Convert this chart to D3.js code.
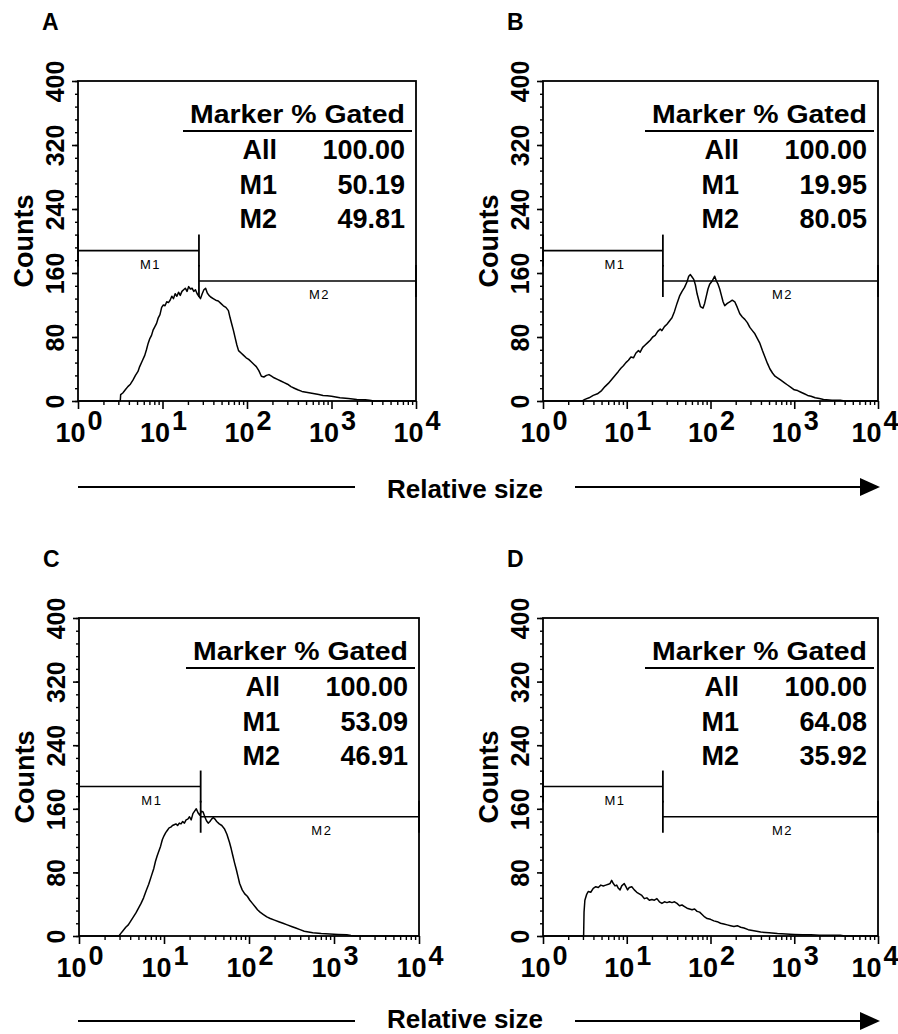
<!DOCTYPE html>
<html>
<head>
<meta charset="utf-8">
<script src="https://cdn.jsdelivr.net/npm/d3@7"></script>
<style>
  body { margin: 0; background: #fff; }
  svg text { font-family: "Liberation Sans", Arial, Helvetica, sans-serif; fill: #000; }
</style>
</head>
<body>
<svg id="fig" width="898" height="1034"></svg>
<script>
// Flow cytometry histograms, four panels (A-D)

// table values
const markerNames = ["All", "M1", "M2"];
const gatedA = ["100.00", "50.19", "49.81"];
const gatedB = ["100.00", "19.95", "80.05"];
const gatedC = ["100.00", "53.09", "46.91"];
const gatedD = ["100.00", "64.08", "35.92"];

// axes
const yTicks = [0, 80, 160, 240, 320, 400];
const xDecades = [0, 1, 2, 3, 4];

// markers: M1 = 10^0 .. gateEdge, M2 = gateEdge .. 10^4
const gateEdge = 27;
const m1Level = 188;
const m2Level = 150;

// histograms: log10(relative size) and counts
const expA = [0, 0.48, 0.50, 0.505, 0.53, 0.56, 0.59, 0.62, 0.65, 0.68, 0.71, 0.73, 0.76, 0.79, 0.81, 0.83, 0.85, 0.87, 0.89, 0.91, 0.93, 0.95, 0.97, 0.99, 1.01, 1.03, 1.05, 1.07, 1.09, 1.11, 1.13, 1.15, 1.17, 1.19, 1.21, 1.23, 1.25, 1.27, 1.29, 1.31, 1.33, 1.35, 1.37, 1.39, 1.41, 1.43, 1.45, 1.47, 1.49, 1.51, 1.53, 1.55, 1.57, 1.60, 1.63, 1.66, 1.69, 1.72, 1.75, 1.78, 1.80, 1.82, 1.84, 1.86, 1.88, 1.90, 1.93, 1.96, 1.99, 2.02, 2.05, 2.08, 2.11, 2.14, 2.17, 2.20, 2.23, 2.26, 2.29, 2.32, 2.36, 2.40, 2.44, 2.48, 2.52, 2.56, 2.60, 2.65, 2.70, 2.75, 2.80, 2.85, 2.90, 2.95, 3.00, 3.05, 3.10, 3.20, 3.30, 3.40, 3.45, 3.50, 4];
const cntA = [0, 0, 0, 8, 10, 14, 18, 21, 26, 32, 37, 43, 50, 57, 64, 72, 78, 82, 89, 93, 97, 104, 108, 117, 120, 119, 124, 123, 126, 131, 128, 134, 131, 136, 132, 137, 139, 141, 137, 143, 140, 141, 137, 139, 134, 131, 128, 134, 139, 141, 135, 132, 130, 128, 126, 125, 122, 119, 117, 113, 104, 96, 88, 79, 70, 63, 60, 57, 54, 52, 49, 46, 43, 38, 31, 30, 32, 33, 31, 29, 27, 25, 23, 21, 18, 16, 14, 12, 11, 10, 9, 8, 7, 6.5, 6, 5, 4, 3, 2, 1.5, 1, 0, 0];

const expB = [0, 0.47, 0.50, 0.55, 0.60, 0.65, 0.70, 0.74, 0.78, 0.82, 0.86, 0.90, 0.93, 0.96, 0.99, 1.02, 1.05, 1.08, 1.11, 1.14, 1.16, 1.19, 1.22, 1.25, 1.28, 1.31, 1.34, 1.37, 1.40, 1.42, 1.45, 1.48, 1.51, 1.54, 1.57, 1.60, 1.63, 1.66, 1.69, 1.72, 1.74, 1.76, 1.78, 1.80, 1.82, 1.84, 1.86, 1.88, 1.91, 1.93, 1.95, 1.97, 1.99, 2.02, 2.05, 2.07, 2.09, 2.11, 2.13, 2.15, 2.17, 2.20, 2.23, 2.26, 2.29, 2.32, 2.35, 2.38, 2.41, 2.44, 2.47, 2.50, 2.53, 2.56, 2.59, 2.62, 2.65, 2.68, 2.71, 2.74, 2.77, 2.80, 2.84, 2.88, 2.92, 2.96, 3.00, 3.04, 3.08, 3.12, 3.16, 3.20, 3.25, 3.30, 3.35, 3.45, 3.55, 3.60, 4];
const cntB = [0, 0, 2, 4, 7, 9, 13, 18, 22, 27, 32, 37, 41, 44, 48, 51, 55, 54, 60, 63, 61, 67, 70, 73, 76, 80, 82, 87, 90, 88, 93, 96, 100, 104, 112, 122, 131, 137, 142, 149, 156, 158, 155, 152, 145, 134, 126, 118, 116, 122, 131, 140, 146, 150, 156, 150, 146, 140, 132, 124, 119, 122, 124, 126, 124, 117, 109, 105, 102, 98, 92, 88, 84, 78, 72, 63, 55, 47, 40, 35, 31, 29, 26, 23, 20, 17, 14, 13, 11, 9, 7, 6, 4, 3, 2, 1, 1, 0, 0];

const expC = [0, 0.47, 0.49, 0.52, 0.55, 0.58, 0.61, 0.64, 0.67, 0.70, 0.73, 0.76, 0.79, 0.82, 0.85, 0.88, 0.90, 0.92, 0.94, 0.96, 0.98, 1.00, 1.02, 1.04, 1.06, 1.08, 1.10, 1.12, 1.14, 1.16, 1.18, 1.20, 1.22, 1.24, 1.26, 1.28, 1.30, 1.32, 1.34, 1.36, 1.38, 1.40, 1.42, 1.44, 1.46, 1.48, 1.50, 1.52, 1.54, 1.56, 1.58, 1.60, 1.62, 1.65, 1.68, 1.71, 1.74, 1.77, 1.79, 1.81, 1.83, 1.85, 1.87, 1.89, 1.92, 1.95, 1.98, 2.01, 2.04, 2.07, 2.10, 2.13, 2.17, 2.21, 2.25, 2.30, 2.35, 2.40, 2.45, 2.50, 2.55, 2.60, 2.65, 2.70, 2.75, 2.85, 2.95, 3.05, 3.15, 3.20, 3.25, 4];
const cntC = [0, 0, 3, 7, 11, 14, 19, 24, 29, 35, 41, 48, 57, 65, 75, 85, 94, 101, 107, 113, 121, 126, 130, 133, 136, 137, 139, 140, 141, 139, 142, 141, 144, 142, 146, 147, 150, 146, 154, 157, 160, 155, 152, 157, 156, 150, 145, 142, 144, 147, 149, 147, 144, 141, 139, 135, 128, 118, 110, 101, 92, 84, 75, 66, 58, 53, 50, 45, 41, 37, 33, 30, 27, 24, 22, 20, 18, 16, 14, 12, 10, 8, 6, 5, 4, 3, 2.5, 2, 1.5, 0.5, 0, 0];

const expD = [0, 0.48, 0.485, 0.49, 0.50, 0.52, 0.54, 0.57, 0.60, 0.63, 0.66, 0.69, 0.72, 0.75, 0.78, 0.80, 0.82, 0.84, 0.86, 0.88, 0.90, 0.92, 0.94, 0.97, 0.99, 1.01, 1.03, 1.06, 1.09, 1.12, 1.15, 1.18, 1.21, 1.24, 1.27, 1.30, 1.33, 1.36, 1.39, 1.42, 1.45, 1.48, 1.51, 1.54, 1.57, 1.60, 1.63, 1.66, 1.69, 1.72, 1.75, 1.78, 1.81, 1.84, 1.87, 1.90, 1.93, 1.96, 2.00, 2.04, 2.08, 2.12, 2.16, 2.20, 2.24, 2.28, 2.32, 2.36, 2.40, 2.45, 2.50, 2.55, 2.60, 2.70, 2.80, 2.90, 3.00, 3.10, 3.20, 3.30, 3.45, 3.55, 3.60, 4];
const cntD = [0, 0, 0, 30, 45, 52, 56, 55, 60, 62, 61, 64, 63, 64, 65, 66, 70, 66, 63, 64, 60, 58, 63, 66, 62, 58, 61, 62, 58, 55, 53, 51, 47, 48, 45, 46, 45, 47, 43, 41, 43, 42, 43, 42, 43, 41, 38, 39, 37, 35, 34, 33, 34, 31, 30, 27, 24, 22, 21, 19, 18, 16, 15, 14, 13, 12, 13, 11, 10, 8, 7, 6, 5, 4, 3, 2.5, 2, 1.5, 1.5, 1, 1, 1, 0, 0];

const panels = [
  { letter: "A", exps: expA, cnts: cntA, gated: gatedA, left: 78,  right: 416, top: 81,  bottom: 401 },
  { letter: "B", exps: expB, cnts: cntB, gated: gatedB, left: 543, right: 878, top: 81,  bottom: 401 },
  { letter: "C", exps: expC, cnts: cntC, gated: gatedC, left: 79,  right: 419, top: 618, bottom: 936 },
  { letter: "D", exps: expD, cnts: cntD, gated: gatedD, left: 543, right: 878, top: 618, bottom: 936 }
];

const svg = d3.select("#fig");
svg.append("rect").attr("width", 898).attr("height", 1034).attr("fill", "#fff");

panels.forEach(p => {
  const x = d3.scaleLog().domain([1, 1e4]).range([p.left, p.right]);
  const y = d3.scaleLinear().domain([0, 400]).range([p.bottom, p.top]);
  const g = svg.append("g");

  // panel letter
  g.append("text")
    .attr("x", p.left - 36).attr("y", p.top - 51)
    .style("font-size", "23px").style("font-weight", "bold")
    .text(p.letter);

  // y axis: minor ticks every 16, labelled ticks every 80
  g.append("g")
    .attr("transform", `translate(${p.left},0)`)
    .call(d3.axisLeft(y).tickValues(d3.range(0, 401, 16)).tickSize(3).tickSizeOuter(0).tickFormat(""))
    .call(a => a.select(".domain").remove())
    .call(a => a.selectAll("line").attr("stroke-width", 1.4));

  g.append("g")
    .attr("transform", `translate(${p.left},0)`)
    .call(d3.axisLeft(y).tickValues(yTicks).tickSize(6).tickSizeOuter(0))
    .call(a => a.select(".domain").remove())
    .call(a => a.selectAll("line").attr("stroke-width", 1.6))
    .call(a => a.selectAll(".tick text")
      .attr("transform", "rotate(-90)")
      .attr("x", 0).attr("y", -14).attr("dy", 0)
      .attr("text-anchor", "middle")
      .attr("fill", "#000")
      .style("font-size", "25px").style("font-weight", "bold")
      .style("font-family", "'Liberation Sans', Arial, sans-serif"));

  g.append("text")
    .attr("transform", `translate(${p.left - 45},${(p.top + p.bottom) / 2}) rotate(-90)`)
    .attr("text-anchor", "middle")
    .style("font-size", "27px").style("font-weight", "bold")
    .text("Counts");

  // x axis: log, minor ticks 2..9 per decade
  const minorX = [];
  xDecades.slice(0, -1).forEach(d => d3.range(2, 10).forEach(m => minorX.push(m * 10 ** d)));
  g.append("g")
    .attr("transform", `translate(0,${p.bottom})`)
    .call(d3.axisBottom(x).tickValues(minorX).tickSize(4).tickSizeOuter(0).tickFormat(""))
    .call(a => a.select(".domain").remove())
    .call(a => a.selectAll("line").attr("stroke-width", 1.4));

  g.append("g")
    .attr("transform", `translate(0,${p.bottom})`)
    .call(d3.axisBottom(x).tickValues(xDecades.map(d => 10 ** d)).tickSize(8).tickSizeOuter(0).tickFormat(""))
    .call(a => a.select(".domain").remove())
    .call(a => a.selectAll("line").attr("stroke-width", 1.6));

  const xl = g.selectAll(".xlab").data(xDecades).enter().append("text")
    .attr("class", "xlab")
    .attr("x", d => Math.min(x(10 ** d) + 1, 875)).attr("y", p.bottom + 41)
    .attr("text-anchor", "middle")
    .style("font-size", "27px").style("font-weight", "bold");
  xl.append("tspan").text("10");
  xl.append("tspan").attr("dx", 2).attr("dy", -12).text(d => d);

  // frame
  g.append("rect")
    .attr("x", p.left).attr("y", p.top)
    .attr("width", p.right - p.left).attr("height", p.bottom - p.top)
    .attr("fill", "none").attr("stroke", "#000").attr("stroke-width", 1.8);

  // histogram
  const line = d3.line()
    .x(d => x(10 ** d[0]))
    .y(d => y(d[1]));
  g.append("path")
    .datum(d3.zip(p.exps, p.cnts))
    .attr("d", line)
    .attr("fill", "none").attr("stroke", "#000").attr("stroke-width", 1.5)
    .attr("stroke-linejoin", "round");

  // markers
  const markers = [
    { name: "M1", from: 1, to: gateEdge, level: m1Level },
    { name: "M2", from: gateEdge, to: 1e4, level: m2Level }
  ];
  markers.forEach(m => {
    const x0 = x(m.from), x1 = x(m.to), yy = y(m.level);
    g.append("line").attr("x1", x0).attr("x2", x1).attr("y1", yy).attr("y2", yy)
      .attr("stroke", "#000").attr("stroke-width", 1.6);
    [x0, x1].forEach(xx => g.append("line")
      .attr("x1", xx).attr("x2", xx).attr("y1", yy - 16).attr("y2", yy + 16)
      .attr("stroke", "#000").attr("stroke-width", 1.8));
    g.append("text")
      .attr("x", (x0 + x1) / 2 + 12).attr("y", yy + 18)
      .attr("text-anchor", "middle")
      .style("font-size", "13px").style("letter-spacing", "1.5px")
      .text(m.name);
  });

  // gated table
  g.append("text")
    .attr("x", p.right - 226).attr("y", p.top + 42)
    .attr("textLength", 215).attr("lengthAdjust", "spacingAndGlyphs")
    .style("font-size", "25px").style("font-weight", "bold")
    .text("Marker % Gated");
  g.append("line")
    .attr("x1", p.right - 233).attr("x2", p.right - 4)
    .attr("y1", p.top + 50).attr("y2", p.top + 50)
    .attr("stroke", "#000").attr("stroke-width", 1.8);
  markerNames.forEach((nm, i) => {
    const yy = p.top + 78 + i * 34.5;
    g.append("text").attr("x", p.right - 139).attr("y", yy)
      .attr("text-anchor", "end")
      .style("font-size", "27px").style("font-weight", "bold").text(nm);
    g.append("text").attr("x", p.right - 11).attr("y", yy)
      .attr("text-anchor", "end")
      .style("font-size", "27px").style("font-weight", "bold").text(p.gated[i]);
  });
});

// "Relative size" arrows under each row of panels
[{ lineY: 487, textY: 498 }, { lineY: 1021, textY: 1028 }].forEach(r => {
  svg.append("line").attr("x1", 78).attr("x2", 355).attr("y1", r.lineY).attr("y2", r.lineY)
    .attr("stroke", "#000").attr("stroke-width", 1.8);
  svg.append("line").attr("x1", 575).attr("x2", 862).attr("y1", r.lineY).attr("y2", r.lineY)
    .attr("stroke", "#000").attr("stroke-width", 1.8);
  svg.append("path")
    .attr("d", `M860,${r.lineY - 9}L880,${r.lineY}L860,${r.lineY + 9}Z`)
    .attr("fill", "#000");
  svg.append("text")
    .attr("x", 465).attr("y", r.textY)
    .attr("text-anchor", "middle")
    .style("font-size", "26px").style("font-weight", "bold")
    .text("Relative size");
});
</script>
</body>
</html>
